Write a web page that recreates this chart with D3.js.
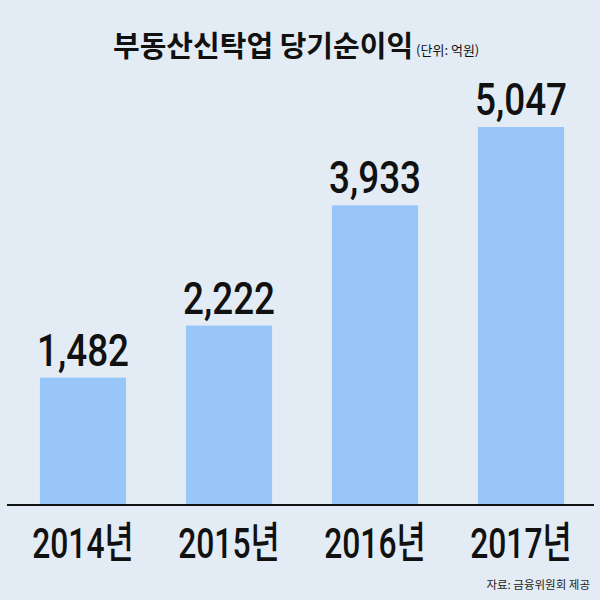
<!DOCTYPE html>
<html><head><meta charset="utf-8">
<script src="https://cdn.jsdelivr.net/npm/d3@7"></script>
<style>html,body{margin:0;padding:0;background:#e3ecf4;}</style>
</head><body>
<svg id="c" width="600" height="600"></svg>
<script>
const categories = ["2014년", "2015년", "2016년", "2017년"];
const values = [1482, 2222, 3933, 5047];
const title = "부동산신탁업 당기순이익";
const unit = "(단위: 억원)";
const source = "자료: 금융위원회 제공";

const svg = d3.select("#c");
svg.append("rect").attr("width", 600).attr("height", 600).attr("fill", "#e3ecf4");

const x = d3.scaleBand().domain(categories).range([10, 594]).paddingInner(0.41).paddingOuter(0.205);
const yMin = -330;
const y = d3.scaleLinear().domain([yMin, 5047]).range([505, 127]);

svg.selectAll("rect.bar").data(values).join("rect")
  .attr("class", "bar")
  .attr("x", (d, i) => x(categories[i]))
  .attr("width", x.bandwidth())
  .attr("y", d => y(d))
  .attr("height", d => y(yMin) - y(d))
  .attr("fill", "#98c6f8");

svg.append("line").attr("x1", 7).attr("x2", 594).attr("y1", 505).attr("y2", 505)
  .attr("stroke", "#111").attr("stroke-width", 2);

svg.selectAll("text.val").data(values).join("text")
  .attr("class", "val")
  .attr("transform", (d, i) => `translate(${x(categories[i]) + x.bandwidth() / 2},${y(d) - 12}) scale(0.82,1)`)
  .attr("text-anchor", "middle")
  .attr("font-family", "Roboto, sans-serif")
  .attr("font-size", 45)
  .attr("font-weight", 500)
  .attr("fill", "#111")
  .text(d => d3.format(",")(d));

svg.selectAll("text.cat").data(categories).join("text")
  .attr("class", "cat")
  .attr("transform", d => `translate(${x(d) + x.bandwidth() / 2},558) scale(0.74,1)`)
  .attr("text-anchor", "middle")
  .attr("font-family", "Roboto, 'Noto Sans CJK KR', sans-serif")
  .attr("font-size", 43)
  .attr("font-weight", 500)
  .attr("fill", "#111")
  .text(d => d);

const t = svg.append("text").attr("x", 113).attr("y", 57)
  .attr("font-family", "'Noto Sans CJK KR', sans-serif").attr("fill", "#111");
t.append("tspan").attr("font-size", 29).attr("font-weight", "bold").text(title);
t.append("tspan").attr("font-size", 13).attr("dx", 3).attr("dy", -2).text(unit);

svg.append("text").attr("x", 590).attr("y", 589).attr("text-anchor", "end")
  .attr("font-family", "'Noto Sans CJK KR', sans-serif").attr("font-size", 11.5)
  .attr("fill", "#222").text(source);
</script>
</body></html>
